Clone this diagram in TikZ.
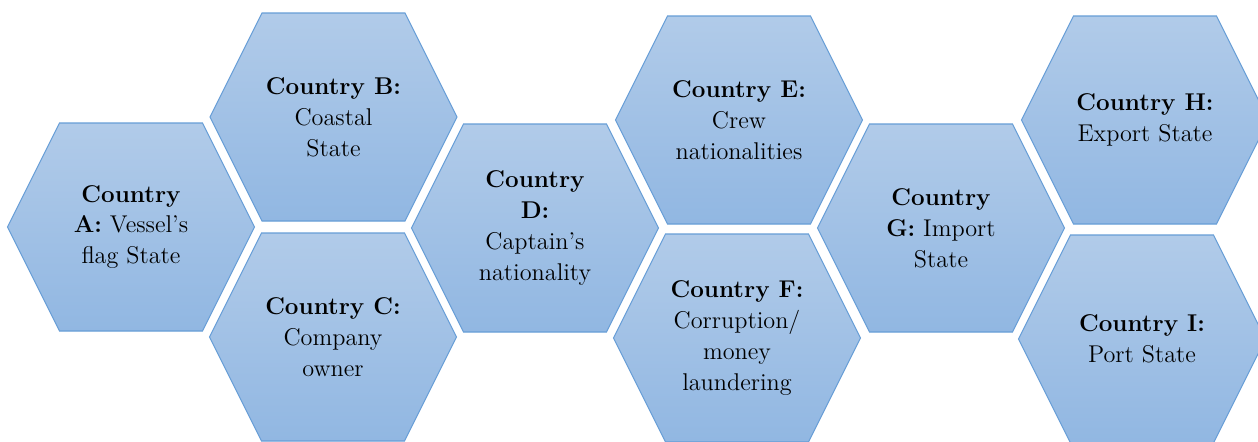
\documentclass[tikz,border=0pt]{standalone}
\usepackage{tikz}

\definecolor{hexTop}{RGB}{177,203,233}
\definecolor{hexBot}{RGB}{145,183,226}
\definecolor{hexLine}{RGB}{102,157,214}

\tikzset{
  hexcell/.style = {draw=hexLine, line width=0.6pt, line join=miter, top color=hexTop, bottom color=hexBot},
  hextext/.style = {align=center, inner sep=0pt, text=black, font=\rmfamily\fontsize{13.8pt}{17.6pt}\selectfont}
}
% one hexagon round a named centre
\newcommand{\hexcell}[1]{\draw[hexcell, shift={(#1)}] (-123.5,0) -- (-71.5,-104) -- (71.5,-104) -- (123.5,0) -- (71.5,104) -- (-71.5,104) -- cycle;}

\begin{document}
\begin{tikzpicture}[x=0.02cm, y=-0.02cm]
    \useasboundingbox (0,0) rectangle (1258,441);
    \clip (0,0) rectangle (1258,441);

    %Centres
    \coordinate (cA) at (131,227);
    \coordinate (cB) at (333.5,117);
    \coordinate (cC) at (333,337);
    \coordinate (cD) at (535,228);
    \coordinate (cE) at (739,120);
    \coordinate (cF) at (737,338);
    \coordinate (cG) at (941,228);
    \coordinate (cH) at (1145,120);
    \coordinate (cI) at (1142,339);

    %Hexagons
    \hexcell{cA}
    \hexcell{cB}
    \hexcell{cC}
    \hexcell{cD}
    \hexcell{cE}
    \hexcell{cF}
    \hexcell{cG}
    \hexcell{cH}
    \hexcell{cI}

    %Labels
    \node (flag) [hextext] at (cA) {\textbf{Country}\\\textbf{A:} Vessel’s\\flag State};
    \node (coast) [hextext] at (cB) {\textbf{Country B:}\\Coastal\\State};
    \node (owner) [hextext] at (cC) {\textbf{Country C:}\\Company\\owner};
    \node (captain) [hextext] at (cD) {\textbf{Country}\\\textbf{D:}\\Captain’s\\nationality};
    \node (crew) [hextext] at (cE) {\textbf{Country E:}\\Crew\\nationalities};
    \node (money) [hextext] at (cF) {\textbf{Country F:}\\Corruption/\\money\\laundering};
    \node (import) [hextext] at (cG) {\textbf{Country}\\\textbf{G:} Import\\State};
    \node (export) [hextext] at (cH) {\textbf{Country H:}\\Export State};
    \node (port) [hextext] at (cI) {\textbf{Country I:}\\Port State};

\end{tikzpicture}
\end{document}
